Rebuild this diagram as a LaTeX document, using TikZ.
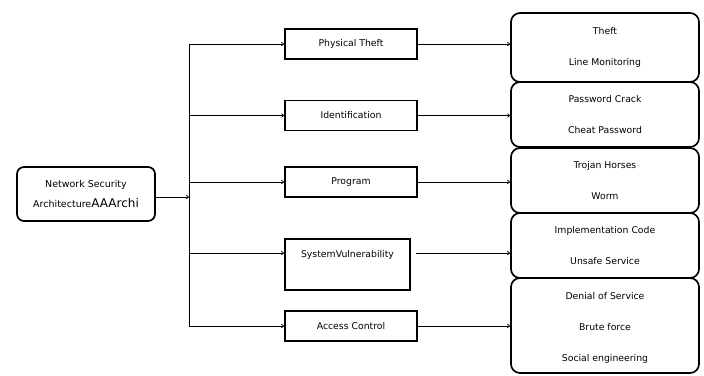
\documentclass[tikz,border=0pt]{standalone}
\usepackage{fontspec}
\setmainfont{DejaVu Sans}
\usetikzlibrary{arrows.meta}
\begin{document}
\begin{tikzpicture}[x=1pt,y=-1pt]
        \tikzstyle{arr} = [line width=0.7pt, -{To[length=3pt,width=4pt]}]
        \tikzstyle{mid} = [draw, line width=1.7pt, minimum width=132pt, minimum height=30pt, inner sep=0pt, font=\fontsize{9.3}{10}\selectfont]
        \tikzstyle{leaf} = [draw, line width=1.7pt, rounded corners=9pt, minimum width=188pt, inner sep=0pt, align=center, font=\fontsize{9.3}{31}\selectfont]

        \useasboundingbox (0,0) rectangle (704,375);

		\node[draw, line width=1.7pt, rounded corners=7pt, minimum width=138pt, minimum height=54pt, inner sep=0pt, align=center, font=\fontsize{9.5}{20}\selectfont] (nsa) at (86,194) {Network Security\\Architecture{\fontsize{12}{20}\selectfont AAArchi}};

		\node[mid] (phys) at (351,44) {Physical Theft};
		\node[mid] (ident) at (351,115.5) {Identification};
		\node[mid] (prog) at (351,182) {Program};
		\node[mid, minimum width=125pt, minimum height=51pt, align=center] (sysv) at (347.5,264.5) {SystemVulnerability\\[11pt]\mbox{}};
		\node[mid] (acc) at (351,326) {Access Control};

		\node[leaf, minimum height=69pt] (theft) at (605,47.5) {Theft\\Line Monitoring};
		\node[leaf, minimum height=65pt] (pwd) at (605,114.5) {Password Crack\\Cheat Password};
		\node[leaf, minimum height=65pt] (troj) at (605,180.5) {Trojan Horses\\Worm};
		\node[leaf, minimum height=65pt] (impl) at (605,245.5) {Implementation Code\\Unsafe Service};
		\node[leaf, minimum height=95pt] (dos) at (605,325.5) {\mbox{}\\[-19pt]Denial of Service\\Brute force\\Social engineering};

		\coordinate (hub) at (189,197);
		\coordinate (top) at (189,44);
		\coordinate (bot) at (189,326);
		\coordinate (sysvin) at ([yshift=11.5pt]sysv.west);
		\coordinate (sysvout) at ([xshift=5pt,yshift=11.5pt]sysv.east);

		\draw[line width=0.7pt] (top) -- (bot);
		\draw[arr] (nsa.east |- hub) -- (hub);

		\draw[arr] (top) -- (phys);
		\draw[arr] (hub |- ident) -- (ident);
		\draw[arr] (hub |- prog) -- (prog);
		\draw[arr] (hub |- sysvin) -- (sysvin);
		\draw[arr] (bot) -- (acc);

		\draw[arr] (phys) -- (theft.west |- phys);
		\draw[arr] (ident) -- (pwd.west |- ident);
		\draw[arr] (prog) -- (troj.west |- prog);
		\draw[arr] (sysvout) -- (impl.west |- sysvout);
		\draw[arr] (acc) -- (dos.west |- acc);

    \end{tikzpicture}
\end{document}
